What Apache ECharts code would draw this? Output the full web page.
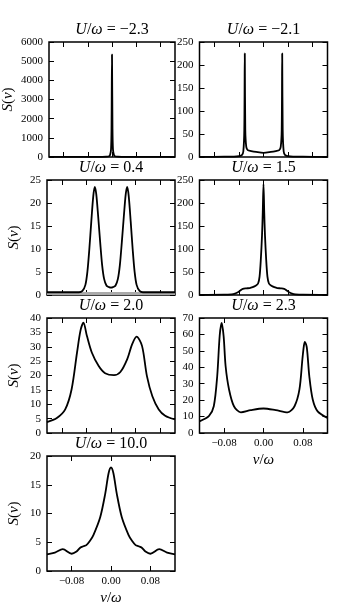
<!DOCTYPE html>
<html lang="en">
<head>
<meta charset="UTF-8">
<title>S(nu) for several U/omega</title>
<script src="https://cdn.jsdelivr.net/npm/echarts@6/dist/echarts.min.js"></script>
<style>
  html, body { margin: 0; padding: 0; background: #fff; }
  #chart { width: 338px; height: 615px; }
</style>
</head>
<body>
<div id="chart"></div>
<script>
  // panel titles: U/omega
  const uValues = ['−2.3', '−2.1', '0.4', '1.5', '2.0', '2.3', '10.0'];

  // y ranges and tick steps per panel
  const yMax = [6000, 250, 25, 250, 40, 70, 20];
  const yStep = [1000, 50, 5, 50, 5, 10, 5];

  // x ticks
  const ticksPlain = [-0.1, -0.05, 0, 0.05, 0.1];
  const ticksLabeled = [-0.08, 0, 0.08];

  // spectra (nu/omega, S)
  const nuA = [-0.13, -0.03, -0.012, -0.006, -0.004, -0.002, -0.001, 0, 0.001, 0.002, 0.004, 0.006, 0.012, 0.03, 0.13];
  const sA  = [2, 4, 15, 40, 100, 400, 1500, 5350, 1500, 400, 100, 40, 15, 4, 2];

  const nuB = [-0.13, -0.08, -0.06, -0.05, -0.044, -0.041, -0.039, -0.038, -0.037, -0.035, -0.032, -0.025, -0.015, 0,
               0.015, 0.025, 0.032, 0.035, 0.037, 0.038, 0.039, 0.041, 0.044, 0.05, 0.06, 0.08, 0.13];
  const sB  = [0.3, 0.6, 1, 2, 4, 12, 60, 225, 60, 22, 15, 13, 11, 9,
               11, 13, 15, 22, 60, 225, 60, 12, 4, 2, 1, 0.6, 0.3];

  const nuC = [-0.13, -0.065, -0.058, -0.052, -0.048, -0.044, -0.04, -0.036, -0.033, -0.03, -0.026, -0.022, -0.018, -0.014, -0.009, -0.004, 0,
               0.004, 0.009, 0.014, 0.018, 0.022, 0.026, 0.03, 0.033, 0.036, 0.04, 0.044, 0.048, 0.052, 0.058, 0.065, 0.13];
  const sC  = [0.6, 0.6, 0.9, 2.2, 5, 10, 16, 21.5, 23.5, 22, 17, 11.5, 6.5, 3.5, 2, 1.7, 1.6,
               1.7, 2, 3.5, 6.5, 11.5, 17, 22, 23.5, 21.5, 16, 10, 5, 2.2, 0.9, 0.6, 0.6];
  const baseNuC = [-0.13, 0.13];
  const baseSC  = [0.35, 0.35];

  const nuD = [-0.13, -0.08, -0.065, -0.058, -0.052, -0.047, -0.042, -0.035, -0.028, -0.022, -0.016, -0.011, -0.008, -0.0055, -0.003, -0.0015, 0,
               0.0015, 0.003, 0.0055, 0.008, 0.011, 0.016, 0.022, 0.028, 0.035, 0.042, 0.047, 0.052, 0.058, 0.065, 0.08, 0.13];
  const sD  = [0.3, 0.6, 1.5, 3, 6, 10, 13.5, 14.5, 15, 17, 20, 25, 40, 76, 130, 180, 241,
               180, 130, 76, 40, 25, 20, 17, 15, 14.5, 13.5, 10, 6, 3, 1.5, 0.6, 0.3];

  const nuE = [-0.13, -0.11, -0.093, -0.08, -0.069, -0.062, -0.056, -0.049, -0.039, -0.025, -0.012, 0.006, 0.019, 0.033, 0.043,
               0.052, 0.063, 0.073, 0.084, 0.097, 0.11, 0.13];
  const sE  = [3.8, 5.2, 8.2, 15.2, 28, 35.6, 38.4, 33.8, 28, 23.3, 20.8, 20.1, 21.2, 25.7, 30.9,
               33.5, 30.3, 19.8, 12.8, 8.2, 6, 4.7];

  const nuF = [-0.13, -0.111, -0.101, -0.094, -0.089, -0.085, -0.081, -0.077, -0.07, -0.06, -0.046, -0.026, 0,
               0.025, 0.049, 0.063, 0.073, 0.079, 0.082, 0.084, 0.088, 0.093, 0.1, 0.11, 0.13];
  const sF  = [7.1, 10.2, 16.3, 34.7, 59.2, 67, 59, 40.8, 26.5, 16.3, 12.6, 13.9, 14.9,
               13.9, 12.6, 16.3, 26.5, 44.9, 53, 55.5, 52, 34.7, 20.4, 13.2, 9.2];

  const nuG = [-0.13, -0.114, -0.098, -0.08, -0.07, -0.062, -0.056, -0.05, -0.043, -0.0355, -0.0218, -0.0116, -0.0049, 0,
               0.0049, 0.0116, 0.0218, 0.0355, 0.043, 0.05, 0.056, 0.062, 0.07, 0.08, 0.098, 0.114, 0.13];
  const sG  = [2.9, 3.2, 3.8, 3.0, 3.4, 4.1, 4.3, 4.5, 5.2, 6.3, 9.4, 13.5, 17.0, 18.0,
               17.0, 13.5, 9.4, 6.3, 5.2, 4.5, 4.3, 4.1, 3.4, 3.0, 3.8, 3.2, 2.9];

  const curves = [[nuA, sA], [nuB, sB], [nuC, sC], [nuD, sD], [nuE, sE], [nuF, sF], [nuG, sG]];

  // layout
  const colLeft = [47, 199.5];
  const rowTop = [42, 180, 318, 456];
  const panelW = 128, panelH = 115;
  const cells = [[0, 0], [1, 0], [0, 1], [1, 1], [0, 2], [1, 2], [0, 3]];
  const labeledX = [5, 6];
  const yNameGap = [33, 0, 25, 0, 25, 0, 25];

  const FONT = 'Liberation Serif';
  const rich = {
    i: { fontStyle: 'italic', fontFamily: FONT, fontSize: 15, color: '#000' }
  };
  const richTitle = {
    i: { fontStyle: 'italic', fontFamily: FONT, fontSize: 16, color: '#000' }
  };

  function pairs(xs, ys) {
    return xs.map((x, k) => [x, ys[k]]);
  }

  function fmt(v) {
    return (v < 0 ? '−' : '') + Math.abs(v).toFixed(2);
  }

  const grid = [], xAxis = [], yAxis = [], series = [];

  cells.forEach(([c, r], p) => {
    grid.push({
      left: colLeft[c], top: rowTop[r], width: panelW, height: panelH,
      show: true, borderColor: '#000', borderWidth: 1.5, backgroundColor: 'transparent'
    });
    const labeled = labeledX.includes(p);
    const ticks = labeled ? ticksLabeled : ticksPlain;
    const tick = { show: true, inside: true, length: 5, lineStyle: { color: '#000', width: 1 }, customValues: ticks };
    const noLine = { show: false, onZero: false };

    // bottom x
    xAxis.push({
      type: 'value', gridIndex: p, min: -0.13, max: 0.13, position: 'bottom',
      axisLine: noLine, splitLine: { show: false },
      axisTick: tick,
      axisLabel: {
        show: labeled, customValues: ticks, formatter: fmt, margin: 5,
        fontFamily: FONT, fontSize: 11, color: '#000'
      },
      name: labeled ? '{i|ν}/{i|ω}' : '', nameLocation: 'middle', nameGap: 20,
      nameTextStyle: { fontFamily: FONT, fontSize: 15, color: '#000', rich: rich }
    });
    // top x, carries the panel title
    xAxis.push({
      type: 'value', gridIndex: p, min: -0.13, max: 0.13, position: 'top',
      axisLine: noLine, splitLine: { show: false },
      axisTick: tick, axisLabel: { show: false },
      name: '{i|U}/{i|ω} = ' + uValues[p], nameLocation: 'middle', nameGap: 4,
      nameTextStyle: { fontFamily: FONT, fontSize: 16, color: '#000', rich: richTitle }
    });
    const ytick = { show: true, inside: true, length: 5, lineStyle: { color: '#000', width: 1 } };
    yAxis.push({
      type: 'value', gridIndex: p, min: 0, max: yMax[p], interval: yStep[p], position: 'left',
      axisLine: noLine, splitLine: { show: false },
      axisTick: ytick,
      axisLabel: { margin: 6, fontFamily: FONT, fontSize: 11, color: '#000', formatter: v => String(v) },
      name: c === 0 ? '{i|S}({i|ν})' : '', nameLocation: 'middle', nameRotate: 90, nameGap: yNameGap[p],
      nameTextStyle: { fontFamily: FONT, fontSize: 15, color: '#000', rich: rich }
    });
    yAxis.push({
      type: 'value', gridIndex: p, min: 0, max: yMax[p], interval: yStep[p], position: 'right',
      axisLine: noLine, splitLine: { show: false },
      axisTick: ytick, axisLabel: { show: false }
    });

    if (p === 2) {
      series.push({
        type: 'line', xAxisIndex: 2 * p, yAxisIndex: 2 * p, data: pairs(baseNuC, baseSC),
        showSymbol: false, lineStyle: { color: '#aaaaaa', width: 3 }, silent: true
      });
    }
    series.push({
      type: 'line', xAxisIndex: 2 * p, yAxisIndex: 2 * p,
      data: pairs(curves[p][0], curves[p][1]),
      showSymbol: false, smooth: 0.3, clip: true,
      lineStyle: { color: '#000', width: 1.8 }, silent: true
    });
  });

  const chart = echarts.init(document.getElementById('chart'), null, { renderer: 'canvas' });
  chart.setOption({
    animation: false,
    backgroundColor: '#fff',
    grid: grid,
    xAxis: xAxis,
    yAxis: yAxis,
    series: series
  });
</script>
</body>
</html>
